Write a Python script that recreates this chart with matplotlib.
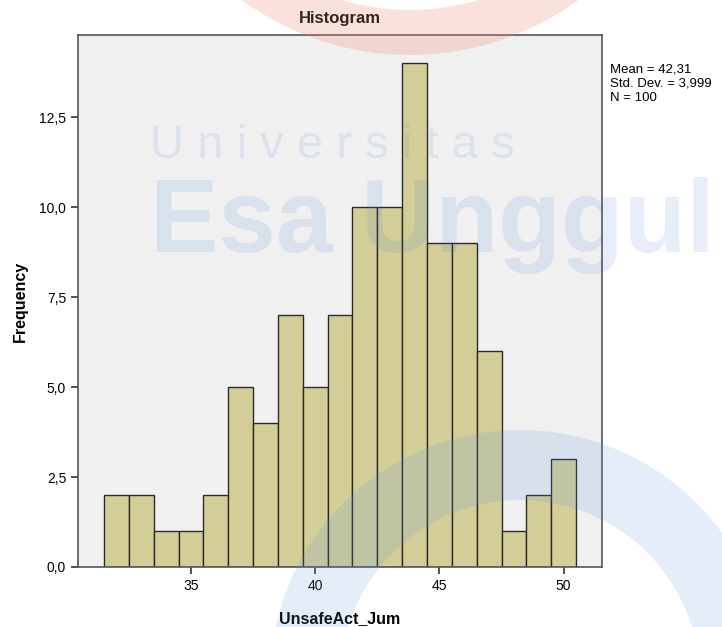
import numpy as np
import matplotlib.pyplot as plt
from matplotlib.patches import Wedge

# Data
bin_centers = [32, 33, 34, 35, 36, 37, 38, 39, 40, 41, 42, 43, 44, 45, 46, 47, 48, 49, 50]
counts = [2, 2, 1, 1, 2, 5, 4, 7, 5, 7, 10, 10, 14, 9, 9, 6, 1, 2, 3]
x_ticks = [35, 40, 45, 50]
y_ticks = [0, 2.5, 5, 7.5, 10, 12.5]
y_tick_labels = ['0,0', '2,5', '5,0', '7,5', '10,0', '12,5']
stats = 'Mean = 42,31\nStd. Dev. = 3,999\nN = 100'

plt.rcParams['font.family'] = ['Liberation Sans', 'DejaVu Sans']

fig = plt.figure(figsize=(7.22, 6.27), dpi=100)
ax = fig.add_axes([0.108, 0.0957, 0.726, 0.8483])
ax.set_facecolor('#F0F0F0')

ax.bar(bin_centers, counts, width=1.0, color='#D3CE97', edgecolor='#2b2b2b', linewidth=1.0)

ax.set_xlim(30.45, 51.55)
ax.set_ylim(0, 14.78)
ax.set_xticks(x_ticks)
ax.set_yticks(y_ticks)
ax.set_yticklabels(y_tick_labels)
ax.tick_params(direction='out', length=5, width=1.2, labelsize=10, color='#333333')
for s in ax.spines.values():
    s.set_color('#555555')
    s.set_linewidth(1.2)

ax.set_title('Histogram', fontsize=12, fontweight='bold', pad=9)
ax.set_xlabel('UnsafeAct_Jum', fontsize=11.5, fontweight='bold', labelpad=13)
ax.set_ylabel('Frequency', fontsize=11.5, fontweight='bold', labelpad=8)

fig.text(610 / 722, 1 - 64 / 627, stats, fontsize=9.5, va='top', ha='left', linespacing=1.2)

# watermark
ov = fig.add_axes([0, 0, 1, 1], facecolor='none')
ov.set_xlim(0, 722)
ov.set_ylim(627, 0)
ov.axis('off')
ov.add_patch(Wedge((410, -230), 285, 0, 180, width=45, color='#f08a70', alpha=0.25, lw=0))
ov.add_patch(Wedge((520, 680), 250, 180, 360, width=70, color='#6090e0', alpha=0.16, lw=0))
ov.text(150, 158, 'U n i v e r s i t a s', fontsize=34, color='#3a78d0', alpha=0.11, fontweight='light')
ov.text(150, 252, 'Esa Unggul', fontsize=74, color='#3a78d0', alpha=0.12, fontweight='bold')

fig.savefig('out.png', dpi=100)
